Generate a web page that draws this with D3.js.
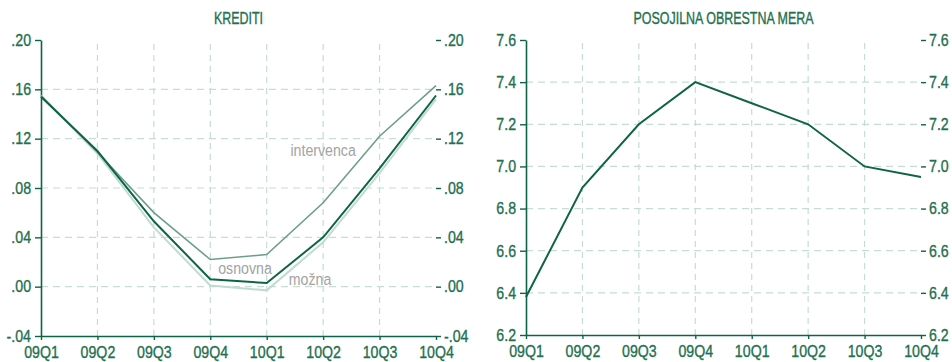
<!DOCTYPE html>
<html><head><meta charset="utf-8">
<script src="https://cdn.jsdelivr.net/npm/d3@7"></script>
<style>
html,body{margin:0;padding:0;background:#fff;}
svg{display:block;}
text{font-family:"Liberation Sans","Arial",sans-serif;}
</style></head>
<body><svg id="c" width="952" height="362"></svg>
<script>
const categories = ["09Q1","09Q2","09Q3","09Q4","10Q1","10Q2","10Q3","10Q4"];
const osnovna    = [0.154,0.110,0.053,0.006,0.003,0.040,0.096,0.155];
const intervenca = [0.155,0.109,0.060,0.022,0.026,0.068,0.122,0.163];
const mozna      = [0.155,0.108,0.048,0.001,-0.003,0.036,0.092,0.152];
const obrestna   = [6.38,6.90,7.20,7.40,7.30,7.20,7.00,6.95];
const leftTicks  = [-0.04,0.00,0.04,0.08,0.12,0.16,0.20];
const rightTicks = [6.2,6.4,6.6,6.8,7.0,7.2,7.4,7.6];
const seriesLabels = [
  {text:"intervenca", cat:4.42, value:0.106},
  {text:"osnovna",    cat:3.14, value:0.010},
  {text:"možna",      cat:4.39, value:0.001}
];

const TXT="#23704f", DARK="#0f6447", MID="#6c9f8a", LIGHT="#c0dccf", GRID="#c5ddd3", LBL="#a3a3a3";
const svg=d3.select("#c");

function condense(sel,k){
  sel.each(function(){
    const t=d3.select(this);
    const x=+(t.attr("x")||0);
    t.attr("transform",`translate(${x},0) scale(${k},1) translate(${-x},0)`);
  });
}
function thicken(sel,color){ sel.attr("stroke",color).attr("stroke-width",0.35); }

function panel(o){
  const g=svg.append("g");
  const x=d3.scalePoint().domain(categories).range(o.xr);
  const y=d3.scaleLinear().domain(o.dom).range(o.yr);
  g.append("g").selectAll("line").data(categories.slice(1,-1)).join("line")
    .attr("x1",d=>x(d)).attr("x2",d=>x(d)).attr("y1",o.yr[0]).attr("y2",o.yr[1])
    .attr("stroke",GRID).attr("stroke-width",1.2).attr("stroke-dasharray","6,5");
  g.append("g").selectAll("line").data(o.ticks.slice(1,-1)).join("line")
    .attr("x1",o.xr[0]).attr("x2",o.xr[1]).attr("y1",d=>y(d)).attr("y2",d=>y(d))
    .attr("stroke",GRID).attr("stroke-width",1.2).attr("stroke-dasharray","7,5");
  const st=sel=>{sel.selectAll("path").attr("stroke",DARK).attr("stroke-width",1.6);
    sel.selectAll("line").attr("stroke",DARK).attr("stroke-width",1.4);
    sel.selectAll("text").attr("fill",TXT).style("font-size","16.5px").call(condense,0.86).call(thicken,TXT);};
  g.append("g").attr("transform",`translate(${o.xr[0]},0)`)
    .call(d3.axisLeft(y).tickValues(o.ticks).tickFormat(o.fmt).tickSizeInner(6).tickSizeOuter(0).tickPadding(4))
    .call(st);
  g.append("g").attr("transform",`translate(${o.xr[1]},0)`)
    .call(d3.axisRight(y).tickValues(o.ticks).tickFormat(o.fmt).tickSizeInner(5).tickSizeOuter(0).tickPadding(3))
    .call(st).call(s=>s.select("path").remove());
  g.append("g").attr("transform",`translate(0,${o.yr[0]})`)
    .call(d3.axisBottom(x).tickSizeInner(4).tickSizeOuter(0).tickPadding(6))
    .call(st);
  g.append("text").attr("x",(o.xr[0]+o.xr[1])/2).attr("y",24).attr("text-anchor","middle")
    .attr("fill",TXT).style("font-size","16px").text(o.title).call(condense,0.78).call(thicken,TXT);
  return {g,x,y};
}

const fmtL=d=>d3.format(".2f")(d).replace(/^(\u2212|-)?0\./,(m,s)=>(s?"-":"")+".");
const L=panel({xr:[41,436],yr:[336,40],dom:[-0.04,0.20],ticks:leftTicks,fmt:fmtL,title:"KREDITI"});
const R=panel({xr:[526,921],yr:[335,40],dom:[6.2,7.6],ticks:rightTicks,fmt:d3.format(".1f"),title:"POSOJILNA OBRESTNA MERA"});

function drawLine(P,vals,color,w){
  const line=d3.line().x((d,i)=>P.x(categories[i])).y(d=>P.y(d));
  P.g.append("path").datum(vals).attr("d",line).attr("fill","none")
    .attr("stroke",color).attr("stroke-width",w).attr("stroke-linejoin","miter");
}
drawLine(L,mozna,LIGHT,2);
drawLine(L,intervenca,MID,1.6);
drawLine(L,osnovna,DARK,2);
drawLine(R,obrestna,DARK,2);

const step=L.x.step();
L.g.append("g").selectAll("text").data(seriesLabels).join("text")
  .attr("x",d=>L.x(categories[0])+d.cat*step).attr("y",d=>L.y(d.value))
  .attr("fill",LBL).style("font-size","16.5px").text(d=>d.text).call(condense,0.86);
</script></body></html>
